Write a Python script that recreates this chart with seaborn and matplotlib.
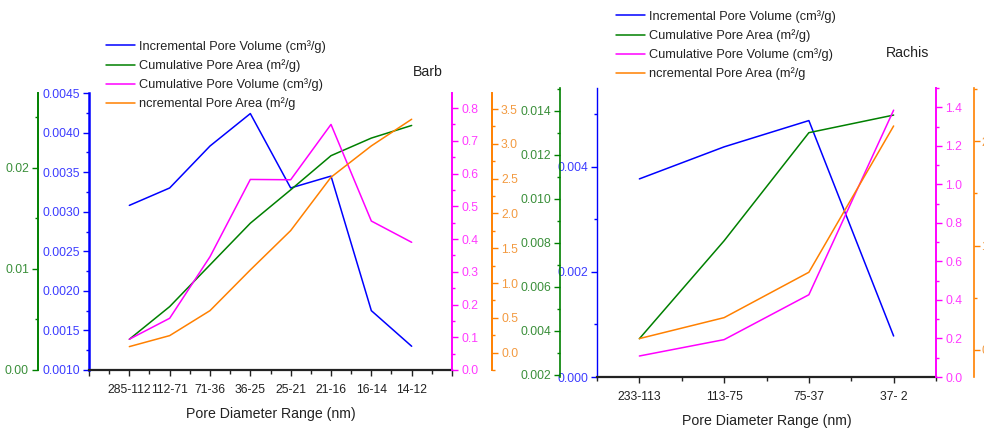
import numpy as np
import pandas as pd
import matplotlib
matplotlib.use("Agg")
import matplotlib.pyplot as plt
import seaborn as sns
from matplotlib.ticker import MultipleLocator, FormatStrFormatter

# Barb: pore size distribution per diameter range (nm)
barb_ranges = ["285-112", "112-71", "71-36", "36-25", "25-21", "21-16", "16-14", "14-12"]
barb_inc_volume = [0.00308, 0.00330, 0.00383, 0.00424, 0.00330, 0.00345, 0.00175, 0.00130]
barb_cum_area = [0.00304, 0.00627, 0.01040, 0.01452, 0.01782, 0.02120, 0.02294, 0.02419]
barb_cum_volume = [0.094, 0.158, 0.346, 0.582, 0.581, 0.750, 0.455, 0.390]
barb_inc_area = [0.086, 0.244, 0.603, 1.188, 1.753, 2.520, 2.970, 3.353]

# Rachis: pore size distribution per diameter range (nm)
rachis_ranges = ["233-113", "113-75", "75-37", "37- 2"]
rachis_inc_volume = [0.00377, 0.00438, 0.00488, 0.00078]
rachis_cum_area = [0.00364, 0.00809, 0.01300, 0.01380]
rachis_cum_volume = [0.109, 0.194, 0.427, 1.385]
rachis_inc_area = [0.108, 0.309, 0.744, 2.146]

series_labels = [
    "Incremental Pore Volume (cm³/g)",
    "Cumulative Pore Area (m²/g)",
    "Cumulative Pore Volume (cm³/g)",
    "ncremental Pore Area (m²/g",
]
line_colors = ["#0000ff", "#008000", "#ff00ff", "#ff8000"]
label_colors = ["#3c3cff", "#3a8f3a", "#ff3cff", "#f39a40"]

sns.set_style("white")
plt.rcParams["font.family"] = ["Liberation Sans", "DejaVu Sans"]

W, H = 984, 429
fig = plt.figure(figsize=(W / 100, H / 100), dpi=100)


def px_rect(x0, y0, x1, y1):
    return [x0 / W, 1 - y1 / H, (x1 - x0) / W, (y1 - y0) / H]


def draw_panel(rect, cats, series, ylims, majors, minors, fmts, offsets, pads, xlim,
               x_major, x_minor, spine_widths):
    ax = fig.add_axes(rect)
    axes = [ax, ax.twinx(), ax.twinx(), ax.twinx()]
    handles = []
    for i, (a, vals) in enumerate(zip(axes, series)):
        df = pd.DataFrame({"range": cats, "value": vals})
        sns.lineplot(data=df, x="range", y="value", ax=a, color=line_colors[i],
                     linewidth=1.1, sort=False, legend=False)
        handles.append(a.lines[-1])
        a.set_ylim(*ylims[i])
        a.set_ylabel("")
        a.yaxis.set_major_locator(MultipleLocator(majors[i]))
        a.yaxis.set_minor_locator(MultipleLocator(minors[i]))
        a.yaxis.set_major_formatter(FormatStrFormatter(fmts[i]))
        side = "left" if i < 2 else "right"
        for s in ("left", "right", "top", "bottom"):
            a.spines[s].set_visible(False)
        a.spines[side].set_visible(True)
        a.spines[side].set_color(line_colors[i])
        a.spines[side].set_linewidth(spine_widths[i])
        a.spines[side].set_position(("axes", offsets[i]))
        a.yaxis.set_ticks_position(side)
        a.tick_params(axis="y", which="both", direction="out", colors=line_colors[i],
                      labelcolor=label_colors[i], labelsize=8.7, pad=pads[i],
                      left=(side == "left"), right=(side == "right"),
                      labelleft=(side == "left"), labelright=(side == "right"))
        a.tick_params(axis="y", which="major", length=4, width=1.0)
        a.tick_params(axis="y", which="minor", length=2.5, width=1.0)
        a.patch.set_visible(False)

    ax.spines["bottom"].set_visible(True)
    ax.spines["bottom"].set_color("#222222")
    ax.spines["bottom"].set_linewidth(1.6)
    ax.set_xlim(*xlim)
    ax.set_xticks(x_major)
    ax.set_xticklabels([cats[int(t)] if 0 <= t < len(cats) else "" for t in x_major])
    ax.set_xticks(x_minor, minor=True)
    ax.xaxis.set_ticks_position("bottom")
    ax.tick_params(axis="x", which="both", direction="out", colors="#222222",
                   labelsize=8.7, pad=6, width=1.0)
    ax.tick_params(axis="x", which="major", length=4)
    ax.tick_params(axis="x", which="minor", length=3)
    ax.set_xlabel("Pore Diameter Range (nm)", fontsize=10.2, color="#222222", labelpad=8)
    return handles


# Barb panel
barb_handles = draw_panel(
    px_rect(89, 93, 452, 370), barb_ranges,
    [barb_inc_volume, barb_cum_area, barb_cum_volume, barb_inc_area],
    ylims=[(0.0010, 0.0045), (0.0, 0.0274), (0.0, 0.846), (-0.25, 3.73)],
    majors=[0.0005, 0.01, 0.1, 0.5],
    minors=[0.00025, 0.005, 0.05, 0.25],
    fmts=["%.4f", "%.2f", "%.1f", "%.1f"],
    offsets=[0.0, (38 - 89) / 363, 1.0, (492 - 89) / 363],
    pads=[2.5, 2.5, 2.5, 2.5],
    xlim=(-1, 8), x_major=list(range(-1, 9)), x_minor=list(np.arange(-0.5, 8, 1.0)),
    spine_widths=[1.8, 1.4, 1.4, 1.4],
)

# Rachis panel
rachis_handles = draw_panel(
    px_rect(597, 88, 936, 377), rachis_ranges,
    [rachis_inc_volume, rachis_cum_area, rachis_cum_volume, rachis_inc_area],
    ylims=[(0.0, 0.0055), (0.0019, 0.01503), (0.0, 1.5), (-0.26, 2.51)],
    majors=[0.002, 0.002, 0.2, 1.0],
    minors=[0.001, 0.001, 0.1, 0.5],
    fmts=["%.3f", "%.3f", "%.1f", "%.1f"],
    offsets=[0.0, (560 - 597) / 339, 1.0, (974 - 597) / 339],
    pads=[2.5, 2.5, 2.5, 1.2],
    xlim=(-0.5, 3.5), x_major=list(range(0, 4)), x_minor=list(np.arange(-0.5, 4, 1.0)),
    spine_widths=[1.0, 1.2, 1.4, 1.2],
)

legend_kw = dict(loc="upper left", frameon=False, fontsize=9.2, handlelength=2.3,
                 handletextpad=0.3, labelspacing=0.5, borderpad=0, borderaxespad=0,
                 labelcolor="#222222")
fig.legend(barb_handles, series_labels, bbox_to_anchor=(106 / W, 1 - 40 / H), **legend_kw)
fig.legend(rachis_handles, series_labels, bbox_to_anchor=(616 / W, 1 - 10 / H), **legend_kw)

fig.text(428 / W, 1 - 72 / H, "Barb", ha="center", va="center", fontsize=10.2, color="#222222")
fig.text(908 / W, 1 - 53 / H, "Rachis", ha="center", va="center", fontsize=10.2, color="#222222")

fig.savefig("out.png", dpi=100)
